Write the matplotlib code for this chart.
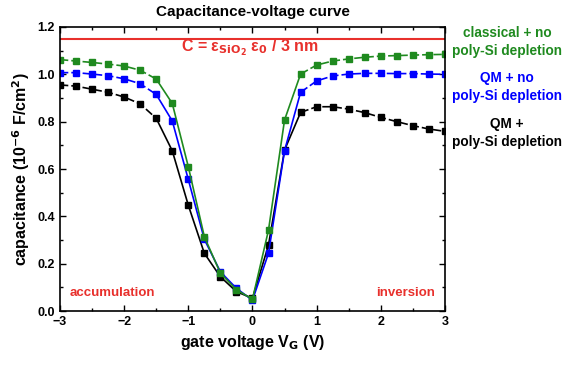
import matplotlib
matplotlib.use("Agg")
import matplotlib.pyplot as plt
import numpy as np
from matplotlib.ticker import MultipleLocator

plt.rcParams['font.family'] = ['Liberation Sans', 'DejaVu Sans']
plt.rcParams['font.weight'] = 'bold'
plt.rcParams['mathtext.default'] = 'bf'

## data
vg = [-3.0, -2.75, -2.5, -2.25, -2.0, -1.75, -1.5, -1.25, -1.0, -0.75, -0.5, -0.25, 0.0,
      0.25, 0.5, 0.75, 1.0, 1.25, 1.5, 1.75, 2.0, 2.25, 2.5, 2.75, 3.0]
c_classical = [1.062, 1.056, 1.05, 1.043, 1.035, 1.017, 0.98, 0.877, 0.61, 0.314, 0.16, 0.09, 0.05,
               0.342, 0.807, 1.001, 1.039, 1.056, 1.065, 1.072, 1.077, 1.079, 1.081, 1.083, 1.084]
c_qm = [1.007, 1.007, 1.001, 0.994, 0.981, 0.96, 0.915, 0.803, 0.556, 0.303, 0.166, 0.096, 0.046,
        0.244, 0.677, 0.924, 0.972, 0.993, 1.001, 1.004, 1.004, 1.003, 1.003, 1.001, 1.0]
c_qm_poly = [0.955, 0.95, 0.937, 0.924, 0.904, 0.875, 0.814, 0.677, 0.447, 0.244, 0.145, 0.082, 0.054,
             0.279, 0.68, 0.839, 0.863, 0.863, 0.853, 0.838, 0.818, 0.80, 0.783, 0.769, 0.759]
c_ox = 3.9 * 8.854e-12 / 3e-9 * 1e2  # 10^-6 F/cm^2

green = '#1f8a1f'
blue = '#0000ff'
red = '#e8302c'

fig = plt.figure(figsize=(5.69, 3.69), dpi=100)
ax = fig.add_axes([0.1054, 0.157, 0.6766, 0.770])

ax.axhline(c_ox, color=red, lw=1.5)

x = np.array(vg)
left = x <= -1.5
mid = (x >= -1.5) & (x <= 0.75)
right = x >= 0.75
for c, col in [(c_qm_poly, 'black'), (c_qm, blue), (c_classical, green)]:
    y = np.array(c)
    # flat parts dashed, steep part solid
    ax.plot(x[left], y[left], color=col, lw=1.2, dashes=(5, 1.8))
    ax.plot(x[right], y[right], color=col, lw=1.2, dashes=(5, 1.8))
    ax.plot(x[mid], y[mid], color=col, lw=1.2)
    ax.plot(x, y, ls='none', marker='s', ms=4.3, color=col)

ax.set_xlim(-3, 3)
ax.set_ylim(0, 1.2)
ax.xaxis.set_major_locator(MultipleLocator(1))
ax.xaxis.set_minor_locator(MultipleLocator(0.5))
ax.yaxis.set_major_locator(MultipleLocator(0.2))
ax.yaxis.set_minor_locator(MultipleLocator(0.1))
ax.tick_params(which='both', direction='in', top=True, right=True, width=1.0, labelsize=9)
ax.tick_params(which='major', length=4)
ax.tick_params(which='minor', length=2.5)
for s in ax.spines.values():
    s.set_linewidth(1.2)

ax.set_title('Capacitance-voltage curve', fontsize=11, fontweight='bold', pad=8)
ax.set_xlabel('gate voltage V$_G$ (V)', fontsize=11.5, fontweight='bold')
ax.set_ylabel('capacitance (10$^{-6}$ F/cm$^2$)', fontsize=11.5, fontweight='bold')

ax.text(-0.05, 1.113, 'C = ε$_{SiO_2}$ ε$_0$ / 3 nm', color=red,
        fontsize=11.5, fontweight='bold', ha='center', va='center')
ax.text(-2.85, 0.075, 'accumulation', color=red, fontsize=9.5, fontweight='bold',
        ha='left', va='center')
ax.text(2.85, 0.075, 'inversion', color=red, fontsize=9.5, fontweight='bold',
        ha='right', va='center')

fig.text(507 / 569, 1 - 42 / 369, 'classical + no\npoly-Si depletion', color=green,
         fontsize=9.8, fontweight='bold', ha='center', va='center', linespacing=1.4)
fig.text(507 / 569, 1 - 87 / 369, 'QM + no\npoly-Si depletion', color=blue,
         fontsize=9.8, fontweight='bold', ha='center', va='center', linespacing=1.4)
fig.text(507 / 569, 1 - 133 / 369, 'QM +\npoly-Si depletion', color='black',
         fontsize=9.8, fontweight='bold', ha='center', va='center', linespacing=1.4)

fig.savefig('out.png', dpi=100)
